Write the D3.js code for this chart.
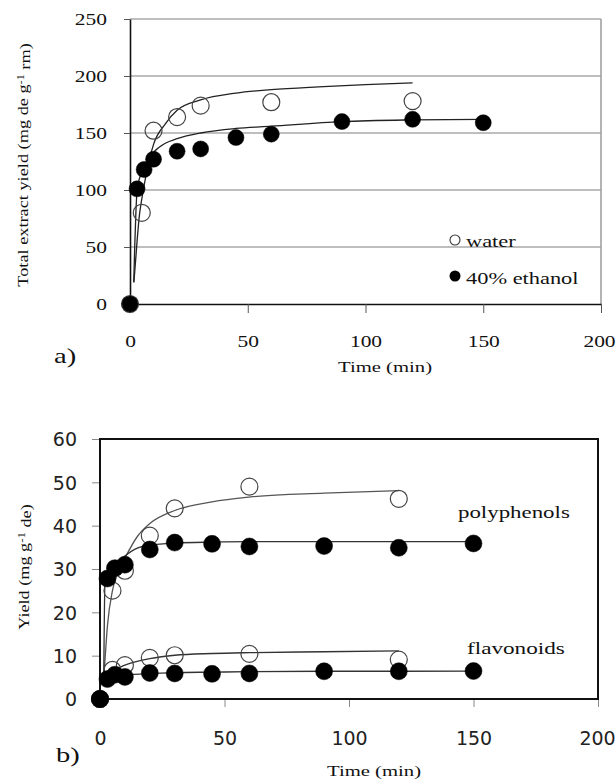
<!DOCTYPE html>
<html>
<head>
<meta charset="utf-8">
<script src="https://cdn.jsdelivr.net/npm/d3@7"></script>
<style>
  body { margin: 0; background: #fff; }
</style>
</head>
<body>
<script>
// measured time points (min)
var timeWater = [0, 5, 10, 20, 30, 60, 120];
var timeEthanol = [0, 3, 6, 10, 20, 30, 45, 60, 90, 120, 150];

// a) total extract yield
var extractWater = [0, 80, 152, 164, 174, 177, 178];
var extractEthanol = [0, 101, 118, 127, 134, 136, 146, 149, 160, 162, 159];

// a) fitted curves
var fitExtractWaterT = [1.6, 2, 3, 4, 5, 7, 10, 15, 20, 30, 45, 60, 80, 100, 120];
var fitExtractWater = [19, 28, 55, 78, 92, 115, 140, 158, 170, 179, 185, 188, 190.5, 192.5, 194];
var fitExtractEthanolT = [1.6, 2, 2.5, 3, 4, 6, 10, 15, 20, 30, 45, 60, 90, 120, 150];
var fitExtractEthanol = [19, 50, 80, 100, 110, 120, 133, 141, 145, 150, 154, 156, 160, 161.5, 162];

// b) polyphenols and flavonoids
var polyWater = [0, 25, 29.6, 37.7, 44, 49, 46.2];
var polyEthanol = [0, 27.8, 30.2, 31, 34.5, 36.1, 35.8, 35.2, 35.3, 34.9, 35.9];
var flavWater = [0, 6.7, 7.8, 9.5, 10.1, 10.4, 9.1];
var flavEthanol = [0, 4.6, 5.6, 5.1, 6.0, 5.9, 5.8, 5.9, 6.4, 6.4, 6.45];

// b) fitted curves
var fitPolyWaterT = [1.5, 2, 3, 5, 7, 10, 15, 20, 30, 45, 60, 90, 120];
var fitPolyWater = [5, 9, 17, 25, 29, 32.5, 37.5, 40.5, 43.5, 45.5, 46.6, 47.5, 48.1];
var fitPolyEthanolT = [1.5, 2, 3, 6, 10, 15, 20, 30, 45, 60, 90, 120, 150];
var fitPolyEthanol = [4.5, 27, 29, 31, 33, 34.8, 35.5, 36, 36.2, 36.3, 36.3, 36.3, 36.3];
var fitFlavWaterT = [1.5, 2, 3, 5, 10, 20, 30, 45, 60, 90, 120];
var fitFlavWater = [4, 5, 5.8, 6.4, 7.8, 9.3, 10.1, 10.5, 10.7, 10.9, 11.1];
var fitFlavEthanolT = [1.5, 3, 6, 10, 20, 30, 45, 60, 90, 120, 150];
var fitFlavEthanol = [4, 4.8, 5.2, 5.5, 5.9, 6.1, 6.2, 6.3, 6.4, 6.4, 6.45];

var xTicks = [0, 50, 100, 150, 200];
var yTicksA = [0, 50, 100, 150, 200, 250];
var yTicksB = [0, 10, 20, 30, 40, 50, 60];

var serif = "'Liberation Serif', 'Times New Roman', serif";
var sans = "'DejaVu Sans', sans-serif";

let svg = d3.select("body").append("svg")
  .attr("width", 616)
  .attr("height", 779);

svg.append("rect").attr("width", 616).attr("height", 779).attr("fill", "#fff");

function zip(ts, vs){
  return ts.map(function(t, i){ return {t: t, v: vs[i]}; });
}

// stretched text, the picture's fonts are wider than normal
function label(g, x, y, str, size, sx, anchor, family){
  return g.append("text")
    .attr("transform", "translate(" + x + "," + y + ") scale(" + sx + ",1)")
    .attr("text-anchor", anchor || "start")
    .style("font-family", family || serif)
    .style("font-size", size + "px")
    .attr("fill", "#111")
    .text(str);
}

function drawCurve(g, x, y, ts, vs, color){
  let line = d3.line()
    .x(function(d){ return x(d.t); })
    .y(function(d){ return y(d.v); })
    .curve(d3.curveMonotoneX);
  g.append("path")
    .datum(zip(ts, vs))
    .attr("d", line)
    .attr("fill", "none")
    .attr("stroke", color)
    .attr("stroke-width", 1.3);
}

function drawPoints(g, x, y, ts, vs, filled, r){
  g.append("g").selectAll("circle")
    .data(zip(ts, vs))
    .enter()
    .append("circle")
      .attr("cx", function(d){ return x(d.t); })
      .attr("cy", function(d){ return y(d.v); })
      .attr("r", r)
      .attr("fill", filled ? "#000" : "none")
      .attr("stroke", filled ? "#000" : "#444")
      .attr("stroke-width", filled ? 0.5 : 1.2);
}

// ---------- a) ----------
let gA = svg.append("g");
let xA = d3.scaleLinear().domain([0, 200]).range([130, 601]);
let yA = d3.scaleLinear().domain([0, 250]).range([304, 19]);

gA.append("g").selectAll("line")
  .data(yTicksA.slice(1))
  .enter()
  .append("line")
    .attr("x1", xA(0)).attr("x2", xA(200))
    .attr("y1", function(d){ return yA(d); })
    .attr("y2", function(d){ return yA(d); })
    .attr("stroke", "#a8a8a8")
    .attr("stroke-width", 1.3);

gA.append("line")
  .attr("x1", xA(200)).attr("x2", xA(200))
  .attr("y1", yA(0)).attr("y2", yA(250))
  .attr("stroke", "#a0a0a0")
  .attr("stroke-width", 1.6);

let sxA = 1.34;
let gXA = gA.append("g")
  .attr("transform", "translate(0," + yA(0) + ")")
  .call(d3.axisBottom(xA).tickValues(xTicks).tickSize(9).tickSizeOuter(0));
gXA.selectAll("text")
  .attr("y", 43).attr("dy", 0)
  .attr("x", function(d){ return d == 200 ? -2 / sxA : 0; })
  .attr("transform", "scale(" + sxA + ",1)")
  .style("font-family", serif).style("font-size", "16px").attr("fill", "#111");

let gYA = gA.append("g")
  .attr("transform", "translate(" + xA(0) + ",0)")
  .call(d3.axisLeft(yA).tickValues(yTicksA).tickSize(6).tickSizeOuter(0));
gYA.selectAll("text")
  .attr("x", -23 / sxA).attr("dy", "0.33em")
  .attr("transform", "scale(" + sxA + ",1)")
  .style("font-family", serif).style("font-size", "16px").attr("fill", "#111");

[gXA, gYA].forEach(function(ax){
  ax.select(".domain").attr("stroke", "#111").attr("stroke-width", 1.6);
  ax.selectAll(".tick line").attr("stroke", "#555");
});

drawCurve(gA, xA, yA, fitExtractWaterT, fitExtractWater, "#222");
drawCurve(gA, xA, yA, fitExtractEthanolT, fitExtractEthanol, "#222");
drawPoints(gA, xA, yA, timeWater, extractWater, false, 8.5);
drawPoints(gA, xA, yA, timeEthanol, extractEthanol, true, 8);

// legend
gA.append("circle").attr("cx", 455).attr("cy", 240).attr("r", 5)
  .attr("fill", "none").attr("stroke", "#333").attr("stroke-width", 1.1);
gA.append("circle").attr("cx", 455).attr("cy", 276).attr("r", 5.5).attr("fill", "#000");
label(gA, 466, 247, "water", 16, 1.4);
label(gA, 466, 284, "40% ethanol", 16, 1.4);

label(gA, 385, 372, "Time (min)", 15, 1.38, "middle");
label(gA, 54, 363, "a)", 22, 1.3);

let yLabA = gA.append("text")
  .attr("transform", "translate(28,165) rotate(-90) scale(1.22,1)")
  .attr("text-anchor", "middle")
  .style("font-family", serif)
  .style("font-size", "15px")
  .attr("fill", "#111");
yLabA.append("tspan").text("Total extract yield (mg de g");
yLabA.append("tspan").attr("dy", "-0.45em").style("font-size", "10px").text("-1");
yLabA.append("tspan").attr("dy", "0.45em").text(" rm)");

// ---------- b) ----------
let gB = svg.append("g");
let xB = d3.scaleLinear().domain([0, 200]).range([100, 598]);
let yB = d3.scaleLinear().domain([0, 60]).range([699, 439]);

let gXB = gB.append("g")
  .attr("transform", "translate(0," + yB(0) + ")")
  .call(d3.axisBottom(xB).tickValues(xTicks).tickSize(8).tickSizeOuter(0));
gXB.selectAll("text")
  .attr("y", 46).attr("dy", 0)
  .attr("x", function(d){ return d == 200 ? -1 : 0; })
  .style("font-family", sans).style("font-size", "19px").attr("fill", "#222");

let gYB = gB.append("g")
  .attr("transform", "translate(" + xB(0) + ",0)")
  .call(d3.axisLeft(yB).tickValues(yTicksB).tickSize(8).tickSizeOuter(0));
gYB.selectAll("text")
  .attr("x", -23).attr("dy", "0.36em")
  .style("font-family", sans).style("font-size", "19px").attr("fill", "#222");

[gXB, gYB].forEach(function(ax){
  ax.select(".domain").attr("stroke", "none");
  ax.selectAll(".tick line").attr("stroke", "#888");
});

gB.append("rect")
  .attr("x", xB(0)).attr("y", yB(60))
  .attr("width", xB(200) - xB(0))
  .attr("height", yB(0) - yB(60))
  .attr("fill", "none")
  .attr("stroke", "#111")
  .attr("stroke-width", 2);

drawCurve(gB, xB, yB, fitPolyWaterT, fitPolyWater, "#555");
drawCurve(gB, xB, yB, fitPolyEthanolT, fitPolyEthanol, "#333");
drawCurve(gB, xB, yB, fitFlavWaterT, fitFlavWater, "#333");
drawCurve(gB, xB, yB, fitFlavEthanolT, fitFlavEthanol, "#333");
drawPoints(gB, xB, yB, timeWater, polyWater, false, 8.5);
drawPoints(gB, xB, yB, timeWater, flavWater, false, 8.5);
drawPoints(gB, xB, yB, timeEthanol, polyEthanol, true, 8.5);
drawPoints(gB, xB, yB, timeEthanol, flavEthanol, true, 8.5);

label(gB, 458, 518, "polyphenols", 16, 1.43);
label(gB, 467, 654, "flavonoids", 16, 1.45);
label(gB, 374, 776, "Time (min)", 15, 1.38, "middle");
label(gB, 56, 762, "b)", 22, 1.3);

let yLabB = gB.append("text")
  .attr("transform", "translate(29,567) rotate(-90) scale(1.3,1)")
  .attr("text-anchor", "middle")
  .style("font-family", serif)
  .style("font-size", "14px")
  .attr("fill", "#111");
yLabB.append("tspan").text("Yield (mg g");
yLabB.append("tspan").attr("dy", "-0.45em").style("font-size", "10px").text("-1");
yLabB.append("tspan").attr("dy", "0.45em").text(" de)");
</script>
</body>
</html>
